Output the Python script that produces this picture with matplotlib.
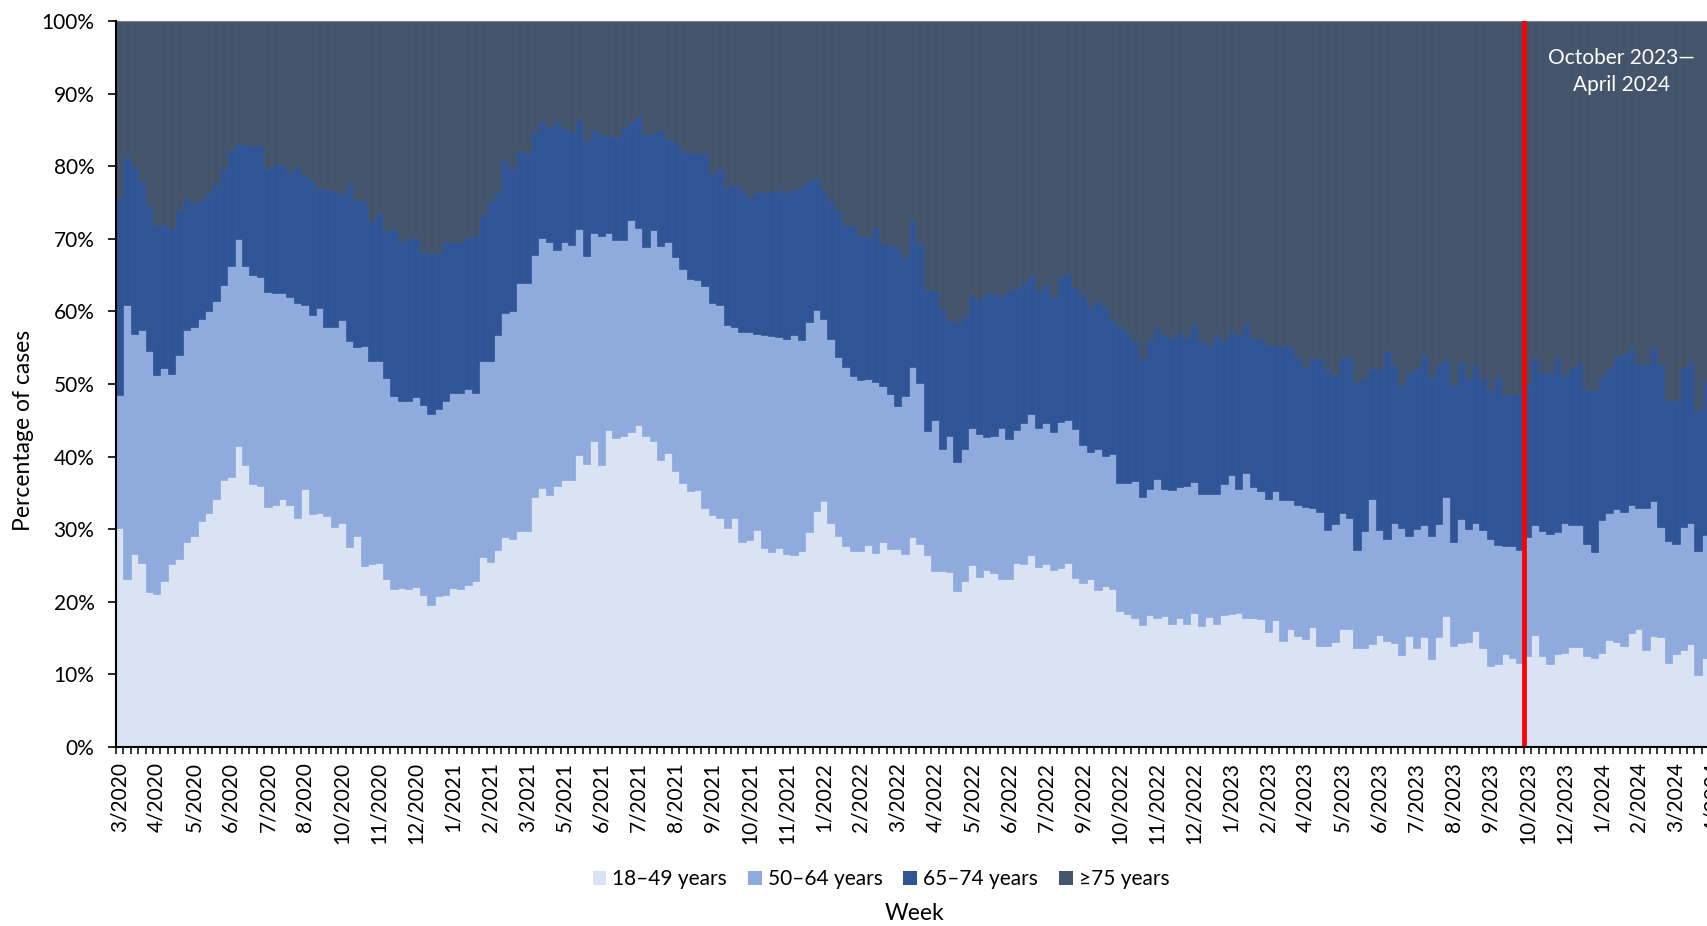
import numpy as np
import matplotlib
matplotlib.use("Agg")
import matplotlib.pyplot as plt
from matplotlib.patches import Patch

plt.rcParams['font.family'] = ['Lato', 'DejaVu Sans']

# ---------------- data (percent of cases per week) ----------------
age_groups = ["18–49 years", "50–64 years", "65–74 years", "≥75 years"]
colors = ["#DAE3F3", "#8FAADC", "#2F5597", "#44546A"]

pct_18_49 = [
    30.1, 23.2, 26.6, 25.4, 21.3, 21.1, 22.8, 25.2, 25.9, 28.2,
    29.1, 31.1, 32.3, 34.2, 36.8, 37.2, 41.5, 38.8, 36.2, 36.0,
    33.1, 33.3, 34.2, 33.3, 31.5, 35.6, 32.1, 32.3, 31.8, 30.3,
    30.8, 27.6, 29.1, 25.0, 25.2, 25.4, 23.2, 21.8, 21.9, 21.8,
    22.1, 20.9, 19.6, 20.8, 20.9, 21.9, 21.8, 22.3, 22.8, 26.2,
    25.5, 27.2, 28.9, 28.6, 29.8, 29.8, 34.4, 35.7, 34.7, 35.9,
    36.8, 36.8, 40.2, 39.0, 42.1, 38.8, 43.7, 42.5, 42.8, 43.4,
    44.3, 42.9, 42.1, 39.5, 40.5, 38.0, 36.3, 35.3, 35.4, 32.9,
    31.9, 31.6, 30.1, 31.5, 28.2, 28.5, 29.9, 27.4, 26.9, 27.4,
    26.6, 26.5, 27.0, 29.6, 32.5, 33.9, 30.9, 29.1, 27.7, 27.0,
    27.0, 27.8, 26.7, 28.2, 27.3, 27.3, 26.6, 28.9, 28.0, 26.4,
    24.3, 24.3, 24.1, 21.5, 22.8, 25.1, 23.4, 24.4, 24.0, 23.1,
    23.1, 25.4, 25.2, 26.4, 24.8, 25.2, 24.4, 24.7, 25.4, 23.3,
    22.6, 23.1, 21.6, 22.2, 21.8, 18.7, 18.3, 17.8, 16.8, 18.2,
    17.8, 18.1, 16.9, 17.8, 16.9, 18.5, 16.7, 17.9, 16.9, 18.2,
    18.3, 18.5, 17.8, 17.8, 17.6, 15.9, 17.5, 14.6, 16.3, 15.3,
    14.9, 16.5, 13.9, 13.9, 14.4, 16.3, 16.3, 13.7, 13.7, 14.2,
    15.4, 14.6, 14.3, 12.7, 15.3, 13.6, 15.1, 12.1, 15.2, 18.1,
    13.9, 14.3, 14.5, 16.0, 13.7, 11.2, 11.4, 12.8, 12.2, 11.6,
    12.5, 15.4, 12.5, 11.5, 12.8, 12.9, 13.8, 13.8, 12.6, 12.2,
    13.0, 14.8, 14.4, 13.9, 15.7, 16.3, 13.4, 15.3, 15.2, 11.6,
    12.8, 13.4, 14.2, 9.9, 12.3,
]

pct_50_64 = [
    18.4, 37.7, 30.3, 32.0, 33.2, 30.1, 29.4, 26.2, 28.1, 29.2,
    28.8, 27.9, 27.7, 27.3, 26.9, 29.0, 28.5, 27.4, 28.8, 28.8,
    29.6, 29.3, 28.4, 28.7, 29.7, 25.3, 27.4, 28.2, 26.0, 27.5,
    28.0, 28.3, 26.0, 30.3, 28.0, 27.8, 27.6, 26.5, 25.8, 25.9,
    26.1, 26.2, 26.2, 25.7, 26.8, 26.9, 26.9, 27.0, 26.0, 27.0,
    27.6, 29.6, 30.9, 31.4, 34.1, 34.1, 33.4, 34.4, 34.8, 32.5,
    32.8, 32.3, 31.1, 28.6, 28.7, 31.6, 27.1, 27.3, 27.0, 29.2,
    27.2, 26.0, 29.1, 29.5, 29.0, 29.5, 29.5, 29.1, 28.9, 30.6,
    29.2, 29.3, 28.0, 26.4, 29.0, 28.7, 27.0, 29.4, 29.7, 29.1,
    29.6, 30.2, 29.1, 28.9, 27.7, 25.1, 25.3, 24.6, 24.6, 24.1,
    23.5, 22.9, 23.6, 21.5, 21.3, 19.7, 21.7, 23.5, 22.2, 17.1,
    20.7, 16.8, 18.7, 17.8, 18.3, 18.8, 19.7, 18.3, 18.9, 20.9,
    19.3, 18.3, 19.4, 19.5, 19.2, 19.4, 19.0, 20.1, 19.7, 20.5,
    19.0, 17.6, 19.5, 17.9, 18.6, 17.7, 18.1, 18.8, 17.7, 17.3,
    19.1, 17.5, 18.5, 18.0, 19.0, 18.0, 18.2, 17.0, 18.0, 18.0,
    19.2, 17.1, 20.0, 18.0, 17.7, 18.2, 17.7, 19.4, 17.7, 18.0,
    18.1, 16.4, 18.5, 16.0, 16.3, 16.0, 15.2, 13.5, 16.0, 20.0,
    14.5, 14.1, 16.6, 17.5, 13.8, 16.4, 15.5, 17.0, 15.5, 16.4,
    14.3, 17.1, 15.5, 14.9, 16.2, 17.5, 16.4, 14.9, 15.5, 15.6,
    16.4, 15.2, 17.2, 17.9, 16.8, 18.0, 16.8, 16.8, 15.3, 14.6,
    18.3, 17.5, 18.4, 18.5, 17.7, 16.6, 19.5, 18.6, 15.1, 16.8,
    15.1, 16.9, 16.7, 17.1, 16.9,
]

pct_65_74 = [
    27.2, 20.4, 23.1, 20.5, 20.2, 20.7, 19.8, 19.9, 19.9, 18.4,
    17.0, 16.5, 16.5, 16.1, 15.9, 16.0, 13.1, 16.9, 17.8, 18.0,
    17.0, 17.7, 17.7, 17.2, 18.8, 17.8, 18.4, 16.5, 19.1, 18.8,
    17.4, 21.6, 20.3, 20.1, 19.3, 20.5, 20.4, 23.0, 22.0, 22.4,
    21.9, 21.1, 22.2, 21.5, 22.0, 20.7, 20.8, 20.9, 21.7, 20.2,
    22.0, 19.6, 21.0, 19.6, 18.2, 17.9, 17.1, 16.0, 15.9, 17.7,
    15.7, 15.6, 15.2, 16.0, 14.2, 14.1, 13.3, 14.2, 15.5, 13.5,
    15.5, 15.6, 13.4, 16.0, 14.2, 15.9, 16.4, 17.6, 17.5, 18.3,
    18.0, 18.7, 19.0, 19.6, 19.7, 18.6, 19.5, 19.7, 20.0, 20.2,
    20.3, 20.2, 21.2, 19.6, 18.3, 17.9, 19.2, 20.2, 19.6, 20.8,
    20.0, 19.6, 21.4, 19.7, 20.6, 21.8, 19.2, 20.2, 19.2, 19.5,
    18.0, 19.3, 16.0, 19.3, 18.3, 18.4, 18.6, 19.9, 19.6, 18.3,
    20.5, 19.5, 19.5, 19.1, 18.9, 19.2, 18.6, 20.1, 20.2, 19.5,
    20.7, 20.1, 20.4, 20.5, 18.4, 21.6, 20.8, 19.4, 19.1, 20.7,
    20.8, 21.2, 21.0, 21.3, 20.6, 21.8, 21.1, 20.5, 21.9, 19.9,
    20.0, 21.2, 20.6, 20.5, 21.0, 21.3, 20.2, 21.3, 21.2, 20.4,
    19.3, 20.7, 21.2, 22.2, 20.6, 21.4, 22.2, 23.2, 21.1, 18.0,
    22.1, 25.9, 21.8, 19.7, 22.5, 22.2, 23.4, 21.8, 22.0, 18.8,
    21.7, 21.6, 20.8, 21.9, 20.9, 20.5, 23.2, 20.8, 20.9, 21.4,
    21.1, 23.0, 22.0, 22.3, 24.2, 20.4, 21.8, 22.4, 21.4, 22.4,
    19.8, 19.9, 21.1, 21.9, 21.7, 19.9, 19.9, 21.2, 22.4, 19.4,
    19.9, 21.9, 22.1, 19.4, 21.4,
]

pct_75_plus = [
    24.3, 18.7, 20.0, 22.1, 25.3, 28.1, 28.0, 28.7, 26.1, 24.2,
    25.1, 24.5, 23.5, 22.4, 20.4, 17.8, 16.9, 16.9, 17.2, 17.2,
    20.3, 19.7, 19.7, 20.8, 20.0, 21.3, 22.1, 23.0, 23.1, 23.4,
    23.8, 22.5, 24.6, 24.6, 27.5, 26.3, 28.8, 28.7, 30.3, 29.9,
    29.9, 31.8, 32.0, 32.0, 30.3, 30.5, 30.5, 29.8, 29.5, 26.6,
    24.9, 23.6, 19.2, 20.4, 17.9, 18.2, 15.1, 13.9, 14.6, 13.9,
    14.7, 15.3, 13.5, 16.4, 15.0, 15.5, 15.9, 16.0, 14.7, 13.9,
    13.0, 15.5, 15.4, 15.0, 16.3, 16.6, 17.8, 18.0, 18.2, 18.2,
    20.9, 20.4, 22.9, 22.5, 23.1, 24.2, 23.6, 23.5, 23.4, 23.3,
    23.5, 23.1, 22.7, 21.9, 21.5, 23.1, 24.6, 26.1, 28.1, 28.1,
    29.5, 29.7, 28.3, 30.6, 30.8, 31.2, 32.5, 27.4, 30.6, 37.0,
    37.0, 39.6, 41.2, 41.4, 40.6, 37.7, 38.3, 37.4, 37.5, 37.7,
    37.1, 36.8, 35.9, 35.0, 37.1, 36.2, 38.0, 35.1, 34.7, 36.7,
    37.7, 39.2, 38.5, 39.4, 41.2, 42.0, 42.8, 44.0, 46.4, 43.8,
    42.3, 43.2, 43.6, 42.9, 43.5, 41.7, 44.0, 44.6, 43.2, 43.9,
    42.5, 43.2, 41.6, 43.7, 43.7, 44.6, 44.6, 44.7, 44.8, 46.3,
    47.7, 46.4, 46.4, 47.9, 48.7, 46.3, 46.3, 49.6, 49.2, 47.8,
    48.0, 45.4, 47.3, 50.1, 48.4, 47.8, 46.0, 49.1, 47.3, 46.7,
    50.1, 47.0, 49.2, 47.2, 49.2, 50.8, 49.0, 51.5, 51.4, 51.4,
    50.0, 46.4, 48.3, 48.3, 46.2, 48.7, 47.6, 47.0, 50.7, 50.8,
    48.9, 47.8, 46.1, 45.7, 44.9, 47.2, 47.2, 44.9, 47.3, 52.2,
    52.2, 47.8, 47.0, 53.6, 49.4,
]

x_tick_labels = [
    "3/2020", "4/2020", "5/2020", "6/2020", "7/2020", "8/2020", "10/2020",
    "11/2020", "12/2020", "1/2021", "2/2021", "3/2021", "5/2021", "6/2021",
    "7/2021", "8/2021", "9/2021", "10/2021", "11/2021", "1/2022", "2/2022",
    "3/2022", "4/2022", "5/2022", "6/2022", "7/2022", "9/2022", "10/2022",
    "11/2022", "12/2022", "1/2023", "2/2023", "4/2023", "5/2023", "6/2023",
    "7/2023", "8/2023", "9/2023", "10/2023", "12/2023", "1/2024", "2/2024",
    "3/2024", "4/2024",
]
weeks_per_label = 5
y_tick_values = [0, 10, 20, 30, 40, 50, 60, 70, 80, 90, 100]
y_tick_labels = ["0%", "10%", "20%", "30%", "40%", "50%", "60%", "70%",
                 "80%", "90%", "100%"]
season_start_week = 189.5   # red marker: start of October 2023 season
season_label = "October 2023—\nApril 2024"

# ---------------- figure ----------------
W, H = 1707, 926
fig = plt.figure(figsize=(W / 100, H / 100), dpi=100)
n_slots = 217
px_per_week = 7.41
ax = fig.add_axes([116 / W, 179 / H, n_slots * px_per_week / W, 726 / H])

series = [pct_18_49, pct_50_64, pct_65_74, pct_75_plus]
weeks = np.arange(len(pct_18_49))
bottom = np.zeros(len(weeks))
for vals, col, lab in zip(series, colors, age_groups):
    vals = np.asarray(vals, dtype=float)
    ax.bar(weeks, vals, width=1.0, bottom=bottom, color=col,
           edgecolor=col, linewidth=0.5, label=lab, zorder=2)
    bottom = bottom + vals

ax.set_xlim(-0.5, n_slots - 0.5)
ax.set_ylim(0, 100)

# red vertical line and label
ax.axvline(season_start_week, color="#FF0000", linewidth=3.4, zorder=5)
ax.text(202.7, 93.0, season_label, color="white", fontsize=15,
        ha="center", va="center", linespacing=1.45, zorder=6)

# y axis
ax.set_yticks(y_tick_values)
ax.set_yticklabels(y_tick_labels)
ax.tick_params(axis="y", direction="out", length=5.5, width=1.2,
               labelsize=15, pad=10, colors="black")

# x axis: labels every 5 weeks, tick marks at every bar boundary
ax.set_xticks(np.arange(len(x_tick_labels)) * weeks_per_label)
ax.set_xticklabels(x_tick_labels, rotation=90)
ax.tick_params(axis="x", which="major", length=0, labelsize=15, pad=11)
ax.set_xticks(np.arange(-0.5, n_slots, 1.0), minor=True)
ax.tick_params(axis="x", which="minor", direction="out", length=5,
               width=1.1, color="black")

for side in ["left", "bottom"]:
    ax.spines[side].set_color("black")
    ax.spines[side].set_linewidth(1.5)
    ax.spines[side].set_zorder(7)
ax.spines["top"].set_color("#7F7F7F")
ax.spines["top"].set_linewidth(0.8)
ax.spines["right"].set_visible(False)

# axis titles
fig.text(24 / W, 1 - 430 / H, "Percentage of cases", rotation=90,
         ha="center", va="center", fontsize=16.5)
fig.text(914 / W, 1 - 913 / H, "Week", ha="center", va="center",
         fontsize=16.5)

# legend
handles = [Patch(facecolor=c, edgecolor="none") for c in colors]
fig.legend(handles, age_groups, loc="center",
           bbox_to_anchor=(881 / W, 1 - 879 / H), ncol=4, frameon=False,
           fontsize=15, handlelength=0.65, handleheight=0.65,
           handletextpad=0.3, columnspacing=1.0)

fig.savefig("out.png", dpi=100)
